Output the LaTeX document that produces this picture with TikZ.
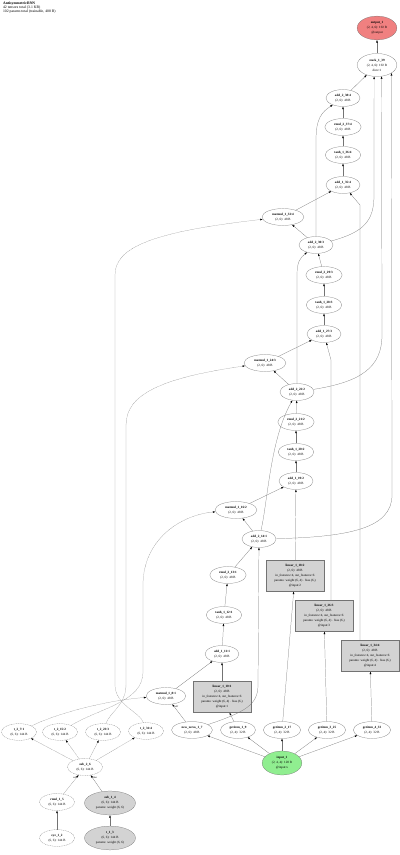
\documentclass[tikz,border=0pt]{standalone}
\usepackage{fontspec}
\setmainfont{Liberation Serif}
\usetikzlibrary{shapes,arrows.meta}
\definecolor{paramgray}{RGB}{211,211,211}
\definecolor{ingreen}{RGB}{144,238,144}
\definecolor{outred}{RGB}{240,128,128}

\begin{document}
\begin{tikzpicture}[
    x=2pt, y=-2pt,
    every node/.style={font=\fontsize{6.5}{10}\selectfont, align=center},
    op/.style={ellipse, draw=black!55, line width=0.45pt, inner xsep=8pt, inner ysep=4pt},
    cnst/.style={op, dash pattern=on 2pt off 1.5pt},
    param/.style={op, fill=paramgray},
    lin/.style={rectangle, draw=black!55, fill=paramgray, line width=0.45pt, minimum width=116pt, minimum height=62pt, inner sep=3pt},
    innode/.style={op, fill=ingreen},
    outnode/.style={op, fill=outred},
    edge/.style={draw=black!55, line width=0.45pt, -{Latex[length=5pt,width=3.5pt,color=black]}},
    cedge/.style={edge, dash pattern=on 1pt off 1pt},
    elab/.style={font=\fontsize{5}{6}\selectfont, inner sep=0.5pt}
]
    \fill[white] (0,0) rectangle (400,855);
    \useasboundingbox (0,0) rectangle (400,855);

    % Title
    \node[anchor=north west, align=left, inner sep=0pt, font=\fontsize{7.5}{7.5}\selectfont] (title) at (3,2)
        {\textbf{AntisymmetricRNN}\\42 tensors total (3.1 KB)\\102 params total (trainable, 408 B)};

    % Output
    \node[outnode] (out1) at (377,28) {\textbf{output\_1}\\(2, 4, 6): 192 B\\@output};
    \node[op] (stk39) at (377,65) {\textbf{stack\_1\_39}\\(2, 4, 6): 192 B\\dim=1};

    % Step 4
    \node[op] (a238) at (343,98) {\textbf{add\_2\_38:4}\\(2, 6): 48 B};
    \node[op] (rm237) at (343,127) {\textbf{rmul\_2\_37:4}\\(2, 6): 48 B};
    \node[op] (th136) at (343,155) {\textbf{tanh\_1\_36:4}\\(2, 6): 48 B};
    \node[op] (a135) at (343,185) {\textbf{add\_1\_35:4}\\(2, 6): 48 B};
    \node[op] (mm132) at (283,217) {\textbf{matmul\_1\_32:4}\\(2, 6): 48 B};

    % Step 3
    \node[op] (a230) at (316,245) {\textbf{add\_2\_30:3}\\(2, 6): 48 B};
    \node[op] (rm229) at (324,275) {\textbf{rmul\_2\_29:3}\\(2, 6): 48 B};
    \node[op] (th128) at (324,305) {\textbf{tanh\_1\_28:3}\\(2, 6): 48 B};
    \node[op] (a127) at (324,334) {\textbf{add\_1\_27:3}\\(2, 6): 48 B};
    \node[op] (mm124) at (265,363) {\textbf{matmul\_1\_24:3}\\(2, 6): 48 B};

    % Step 2
    \node[op] (a222) at (297,392) {\textbf{add\_2\_22:2}\\(2, 6): 48 B};
    \node[op] (rm221) at (296,422) {\textbf{rmul\_2\_21:2}\\(2, 6): 48 B};
    \node[op] (th120) at (296,452) {\textbf{tanh\_1\_20:2}\\(2, 6): 48 B};
    \node[op] (a119) at (296,481) {\textbf{add\_1\_19:2}\\(2, 6): 48 B};
    \node[op] (mm116) at (236,510) {\textbf{matmul\_1\_16:2}\\(2, 6): 48 B};

    % Step 1
    \node[op] (a214) at (259,539) {\textbf{add\_2\_14:1}\\(2, 6): 48 B};
    \node[op] (rm213) at (228,575) {\textbf{rmul\_2\_13:1}\\(2, 6): 48 B};
    \node[op] (th112) at (224,615) {\textbf{tanh\_1\_12:1}\\(2, 6): 48 B};
    \node[op] (a111) at (222,654) {\textbf{add\_1\_11:1}\\(2, 6): 48 B};
    \node[op] (mm18) at (166,696) {\textbf{matmul\_1\_8:1}\\(2, 6): 48 B};

    % Linear layers
    \node[lin] (l110) at (222,697) {\textbf{linear\_1\_10:1}\\(2, 6): 48 B\\in\_features=4, out\_features=6\\params: weight (6, 4) $\cdot$ bias (6,)\\@input:1};
    \node[lin] (l118) at (295,576) {\textbf{linear\_1\_18:2}\\(2, 6): 48 B\\in\_features=4, out\_features=6\\params: weight (6, 4) $\cdot$ bias (6,)\\@input:2};
    \node[lin] (l126) at (324,616) {\textbf{linear\_1\_26:3}\\(2, 6): 48 B\\in\_features=4, out\_features=6\\params: weight (6, 4) $\cdot$ bias (6,)\\@input:3};
    \node[lin] (l134) at (370,656) {\textbf{linear\_1\_34:4}\\(2, 6): 48 B\\in\_features=4, out\_features=6\\params: weight (6, 4) $\cdot$ bias (6,)\\@input:4};

    % Inputs
    \node[op] (nz17) at (192,730) {\textbf{new\_zeros\_1\_7}\\(2, 6): 48 B};
    \node[op] (gi19) at (238,730) {\textbf{getitem\_1\_9}\\(2, 4): 32 B};
    \node[op] (gi217) at (282,730) {\textbf{getitem\_2\_17}\\(2, 4): 32 B};
    \node[op] (gi325) at (327,730) {\textbf{getitem\_3\_25}\\(2, 4): 32 B};
    \node[op] (gi433) at (372,730) {\textbf{getitem\_4\_33}\\(2, 4): 32 B};
    \node[innode] (in1) at (282,763) {\textbf{input\_1}\\(2, 4, 4): 128 B\\@input:x};

    % Recurrent weight
    \node[cnst] (t27) at (19,732) {\textbf{t\_2\_7:1}\\(6, 6): 144 B};
    \node[cnst] (t215) at (60,732) {\textbf{t\_2\_15:2}\\(6, 6): 144 B};
    \node[cnst] (t223) at (103,732) {\textbf{t\_2\_23:3}\\(6, 6): 144 B};
    \node[cnst] (t231) at (146,731) {\textbf{t\_2\_31:4}\\(6, 6): 144 B};
    \node[cnst] (s26) at (85,767) {\textbf{sub\_2\_6}\\(6, 6): 144 B};
    \node[cnst] (rm15) at (57,802) {\textbf{rmul\_1\_5}\\(6, 6): 144 B};
    \node[param] (s14) at (110,803) {\textbf{sub\_1\_4}\\(6, 6): 144 B\\params: weight (6, 6)};
    \node[cnst] (eye12) at (57,838) {\textbf{eye\_1\_2}\\(6, 6): 144 B};
    \node[param] (t13) at (110,838) {\textbf{t\_1\_3}\\(6, 6): 144 B\\params: weight (6, 6)};

    % Edges - output
    \draw[edge] (stk39) -- (out1);
    \draw[edge] (a238) -- (stk39);
    \draw[edge] (a230) .. controls (365,232) and (374,220) .. (374,195) -- (stk39.256);
    \draw[edge] (a222) .. controls (360,382) and (382,368) .. (382,335) -- (stk39.292);
    \draw[edge] (a214) .. controls (350,537) and (392,528) .. (392,495) -- (stk39.331);

    % Edges - step 4
    \draw[edge] (a230) -- (316,140) .. controls (316,118) and (322,112) .. (a238);
    \draw[edge] (a230) -- (mm132);
    \draw[edge] (mm132) -- (a135);
    \draw[edge] (a135) -- (th136);
    \draw[edge] (th136) -- (rm237);
    \draw[edge] (rm237) -- (a238);
    \draw[edge] ([xshift=-20pt]l134.north) -- (360,205) -- (a135);

    % Edges - step 3
    \draw[edge] (a222) -- (297,275) .. controls (297,262) and (300,258) .. (a230);
    \draw[edge] (a222) -- (mm124);
    \draw[edge] (mm124) -- (a127);
    \draw[edge] (a127) -- (th128);
    \draw[edge] (th128) -- (rm229);
    \draw[edge] (rm229) -- (a230);
    \draw[edge] ([xshift=14pt]l126.north) -- (331,360) -- (a127);

    % Edges - step 2
    \draw[edge] (a214) .. controls (268,500) and (270,440) .. (a222);
    \draw[edge] (a214) -- (mm116);
    \draw[edge] (mm116) -- (a119);
    \draw[edge] (a119) -- (th120);
    \draw[edge] (th120) -- (rm221);
    \draw[edge] (rm221) -- (a222);
    \draw[edge] (l118) -- (a119);

    % Edges - step 1
    \draw[edge] (nz17) .. controls (245,712) and (258,705) .. (258,685) -- (a214);
    \draw[edge] (nz17) -- (mm18) node[elab, pos=0.85, anchor=west] {self};
    \draw[edge] (mm18) -- (a111);
    \draw[edge] (l110) -- (a111);
    \draw[edge] (a111) -- (th112);
    \draw[edge] (th112) -- (rm213);
    \draw[edge] (rm213) -- (a214);

    % Edges - inputs
    \draw[edge] (in1) -- (nz17);
    \draw[edge] (in1) -- (gi19);
    \draw[edge] (in1) -- (gi217);
    \draw[edge] (in1) -- (gi325);
    \draw[edge] (in1) -- (gi433);
    \draw[edge] (gi19) -- (l110);
    \draw[edge] (gi217) -- (l118);
    \draw[edge] (gi325) -- (l126);
    \draw[edge] (gi433) -- (l134);

    % Edges - recurrent weight
    \draw[cedge] (eye12) -- (rm15);
    \draw[edge] (t13) -- (s14);
    \draw[cedge] (rm15) -- (s26) node[elab, pos=0.92, anchor=north east] {self};
    \draw[edge] (s14) -- (s26) node[elab, pos=0.92, anchor=north west] {other};
    \draw[cedge] (s26) -- (t27);
    \draw[cedge] (s26) -- (t215);
    \draw[cedge] (s26) -- (t223);
    \draw[cedge] (s26) -- (t231);
    \draw[cedge] (t27) .. controls (60,712) and (110,700) .. (mm18);
    \draw[cedge] (t215) .. controls (100,708) and (143,702) .. (143,672) -- (143,585) .. controls (143,540) and (180,515) .. (mm116);
    \draw[cedge] (t223) .. controls (110,712) and (126,705) .. (126,685) -- (126,425) .. controls (126,395) and (160,378) .. (mm124);
    \draw[cedge] (t231) .. controls (140,712) and (115,705) .. (115,685) -- (115,275) .. controls (115,248) and (150,232) .. (mm132);
\end{tikzpicture}
\end{document}
